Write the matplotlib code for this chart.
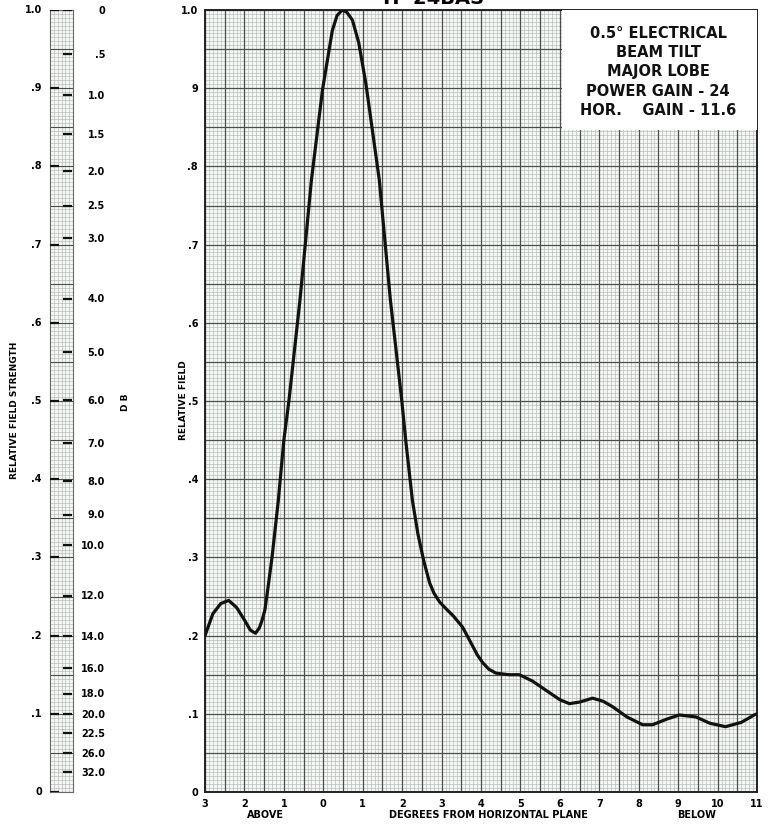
import numpy as np
import matplotlib
matplotlib.use("Agg")
import matplotlib.pyplot as plt

# ---------------- data ----------------
degrees = [-3.00, -2.80, -2.60, -2.40, -2.20, -2.00, -1.85, -1.72, -1.62, -1.55,
           -1.48, -1.40, -1.30, -1.14, -1.00, -0.87, -0.59, -0.30, -0.02, 0.23,
           0.35, 0.48, 0.60, 0.74, 0.90, 1.08, 1.42, 1.70, 1.99, 2.09,
           2.26, 2.40, 2.55, 2.70, 2.81, 2.95, 3.10, 3.30, 3.53, 3.70,
           3.91, 4.05, 4.20, 4.38, 4.70, 4.97, 5.30, 5.65, 6.00, 6.24,
           6.50, 6.83, 7.10, 7.34, 7.70, 8.10, 8.35, 8.70, 9.03, 9.45,
           9.80, 10.20, 10.60, 10.93, 11.00]
rel_field = [0.200, 0.228, 0.241, 0.245, 0.236, 0.220, 0.207, 0.203, 0.210, 0.220,
             0.233, 0.262, 0.300, 0.373, 0.450, 0.501, 0.630, 0.783, 0.898, 0.974,
             0.993, 1.000, 0.997, 0.987, 0.958, 0.906, 0.783, 0.630, 0.501, 0.450,
             0.373, 0.330, 0.295, 0.267, 0.254, 0.243, 0.235, 0.225, 0.211, 0.195,
             0.175, 0.165, 0.157, 0.152, 0.150, 0.150, 0.142, 0.130, 0.118, 0.113,
             0.115, 0.120, 0.116, 0.109, 0.096, 0.086, 0.086, 0.093, 0.0985, 0.096,
             0.088, 0.0835, 0.089, 0.0985, 0.100]

x_tick_pos = list(range(-3, 12))
x_tick_labels = ["3", "2", "1", "0", "1", "2", "3", "4", "5", "6", "7", "8", "9", "10", "11"]
y_tick_pos = [0, 0.1, 0.2, 0.3, 0.4, 0.5, 0.6, 0.7, 0.8, 0.9, 1.0]
y_tick_labels = ["0", ".1", ".2", ".3", ".4", ".5", ".6", ".7", ".8", "9", "1.0"]
strip_labels = ["0", ".1", ".2", ".3", ".4", ".5", ".6", ".7", ".8", ".9", "1.0"]
db_values = [0, 0.5, 1.0, 1.5, 2.0, 2.5, 3.0, 4.0, 5.0, 6.0, 7.0, 8.0, 9.0, 10.0,
             12.0, 14.0, 16.0, 18.0, 20.0, 22.5, 26.0, 32.0]
db_labels = ["0", ".5", "1.0", "1.5", "2.0", "2.5", "3.0", "4.0", "5.0", "6.0", "7.0",
             "8.0", "9.0", "10.0", "12.0", "14.0", "16.0", "18.0", "20.0", "22.5", "26.0", "32.0"]

info_lines = ["0.5\u00b0 ELECTRICAL", "BEAM TILT", "MAJOR LOBE", "POWER GAIN - 24", "HOR.    GAIN - 11.6"]

# ---------------- figure ----------------
W, H = 768, 824
fig = plt.figure(figsize=(W / 100, H / 100), dpi=100, facecolor="white")

minor_c = "#b4bab5"
major_c = "#4a4f4c"
paper = "#f5f7f4"

def px_ax(l, t, r, b):
    return fig.add_axes([l / W, 1 - b / H, (r - l) / W, (b - t) / H])

ax = px_ax(205, 10, 757, 792)
ax.set_facecolor(paper)
ax.set_xlim(-3, 11)
ax.set_ylim(0, 1.0)

# graph-paper grid
for xv in np.arange(-3, 11.0001, 0.1):
    ax.axvline(xv, color=minor_c, lw=0.45, zorder=1)
for yv in np.arange(0, 1.0001, 0.005):
    ax.axhline(yv, color=minor_c, lw=0.45, zorder=1)
for xv in np.arange(-3, 11.0001, 0.5):
    ax.axvline(xv, color=major_c, lw=0.9, zorder=2)
for yv in np.arange(0, 1.0001, 0.05):
    ax.axhline(yv, color=major_c, lw=0.9, zorder=2)

ax.plot(degrees, rel_field, color="#111111", lw=2.3, zorder=5,
        solid_joinstyle="round", solid_capstyle="round")

ax.set_xticks(x_tick_pos)
ax.set_xticklabels(x_tick_labels, fontsize=7, fontweight="bold")
ax.set_yticks(y_tick_pos)
ax.set_yticklabels(y_tick_labels, fontsize=7, fontweight="bold")
ax.tick_params(length=0, pad=5)
for s in ax.spines.values():
    s.set_color("#222222")
    s.set_linewidth(1.4)

# info box
ax.add_patch(plt.Rectangle((6.06, 0.846), 4.94, 0.154, transform=ax.transData,
                           facecolor="white", edgecolor="none", zorder=8))
for i, line in enumerate(info_lines):
    ax.text(8.49, 0.970 - i * 0.0246, line, ha="center", va="center",
            fontsize=10.5, fontweight="bold", zorder=9, color="#111111")

fig.text(183 / W, 1 - 400 / H, "RELATIVE FIELD", rotation=90, ha="center", va="center",
         fontsize=6.5, fontweight="bold")
fig.text(265 / W, 1 - 815 / H, "ABOVE", ha="center", va="center", fontsize=7, fontweight="bold")
fig.text(488 / W, 1 - 815 / H, "DEGREES FROM HORIZONTAL PLANE", ha="center", va="center",
         fontsize=7, fontweight="bold")
fig.text(697 / W, 1 - 815 / H, "BELOW", ha="center", va="center", fontsize=7, fontweight="bold")

# title (cut off at top edge, as in the reference)
fig.text(432 / W, 1 - 4 / H, "TF-24BAS", ha="center", va="baseline", fontsize=14, fontweight="bold")

# ---------------- left strip ----------------
sx = px_ax(50, 10, 73, 792)
sx.set_facecolor(paper)
sx.set_xlim(0, 1)
sx.set_ylim(0, 1.0)
for xv in np.linspace(0, 1, 7):
    sx.axvline(xv, color=minor_c, lw=0.45, zorder=1)
for yv in np.arange(0, 1.0001, 0.005):
    sx.axhline(yv, color=minor_c, lw=0.45, zorder=1)
for yv in np.arange(0, 1.0001, 0.05):
    sx.axhline(yv, color=major_c, lw=0.8, zorder=2)
sx.set_xticks([])
sx.set_yticks([])
for s in sx.spines.values():
    s.set_color("#666666")
    s.set_linewidth(0.8)

for v in y_tick_pos:
    sx.plot([0, 0.38], [v, v], color="#111111", lw=1.6, zorder=4, solid_capstyle="butt")
db_pos = [10 ** (-d / 20.0) for d in db_values]
for v in db_pos:
    sx.plot([0.58, 0.95], [v, v], color="#111111", lw=1.6, zorder=4, solid_capstyle="butt")

for v, lab in zip(y_tick_pos, strip_labels):
    fig.text(42 / W, (1 - (792 - v * 782) / H), lab, ha="right", va="center",
             fontsize=7, fontweight="bold")
for v, lab in zip(db_pos, db_labels):
    fig.text(105 / W, (1 - (792 - v * 782) / H) - 0.001, lab, ha="right", va="center",
             fontsize=7, fontweight="bold")

fig.text(126 / W, 1 - 402 / H, "D B", rotation=90, ha="center", va="center",
         fontsize=6.5, fontweight="bold")
fig.text(15 / W, 1 - 410 / H, "RELATIVE FIELD STRENGTH", rotation=90, ha="center", va="center",
         fontsize=6.5, fontweight="bold")

fig.savefig("out.png", dpi=100, facecolor="white")
